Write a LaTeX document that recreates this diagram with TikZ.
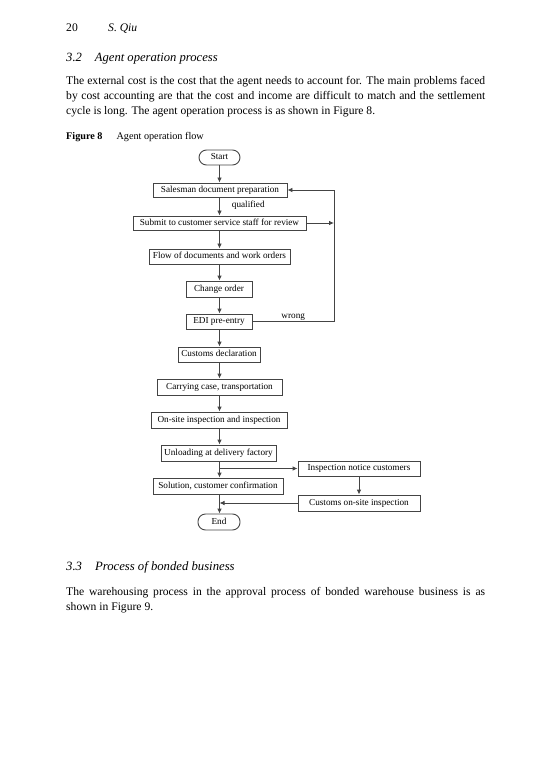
\documentclass[tikz,border=0pt]{standalone}
\usepackage{fontspec}
\setmainfont{Liberation Serif}
\usetikzlibrary{arrows.meta}
\definecolor{ln}{HTML}{444444}
\begin{document}
\begin{tikzpicture}[x=1pt,y=-1pt,
  body/.style={anchor=base west,inner sep=0pt,font=\fontsize{11.6}{13}\selectfont},
  box/.style={draw=ln,line width=0.9pt,inner sep=0pt,text height=6.6pt,text depth=2pt,font=\fontsize{9.2}{11}\selectfont},
  term/.style={box,rounded corners=7.5pt},
  arr/.style={draw=ln,line width=0.9pt,-{Latex[length=5pt,width=4.6pt]}},
  lbl/.style={inner sep=0pt,font=\fontsize{9.2}{11}\selectfont}]
\useasboundingbox (0,0) rectangle (554,783);
% header
\node[body] (pg) at (66,32) {20};
\node[body] (au) at (108,32) {\itshape S. Qiu};
\node[body,font=\fontsize{12.6}{14}\selectfont\itshape] (s32) at (66,62) {3.2\hspace{13pt}Agent operation process};
\node[body] (p1) at (66,85) {\makebox[419pt][s]{The external cost is the cost that the agent needs to account for. The main problems faced}};
\node[body] (p2) at (66,100) {\makebox[419pt][s]{by cost accounting are that the cost and income are difficult to match and the settlement}};
\node[body] (p3) at (66,115) {cycle is long. The agent operation process is as shown in Figure 8.};
\node[body,font=\fontsize{10.2}{12}\selectfont] (fig) at (66,139.5) {\textbf{Figure 8}\hspace{14pt}Agent operation flow};
% flowchart
\node[term,minimum width=41pt,minimum height=15pt] (start) at (219.5,157.5) {Start};
\node[box,minimum width=134pt,minimum height=14pt] (sales) at (220,190) {Salesman document preparation};
\node[box,minimum width=173pt,minimum height=14pt] (submit) at (219.5,223) {Submit to customer service staff for review};
\node[box,minimum width=141pt,minimum height=15pt] (flow) at (219.5,256.5) {Flow of documents and work orders};
\node[box,minimum width=66pt,minimum height=16pt] (change) at (219,289) {Change order};
\node[box,minimum width=66pt,minimum height=15pt] (edi) at (219,321.5) {EDI pre-entry};
\node[box,minimum width=82pt,minimum height=15pt] (decl) at (219,354.5) {Customs declaration};
\node[box,minimum width=125pt,minimum height=16pt] (carry) at (219.5,387) {Carrying case, transportation};
\node[box,minimum width=136pt,minimum height=16pt] (onsite) at (219,420) {On-site inspection and inspection};
\node[box,minimum width=115pt,minimum height=16pt] (unload) at (218.5,453) {Unloading at delivery factory};
\node[box,minimum width=122pt,minimum height=15pt] (notice) at (359,468.5) {Inspection notice customers};
\node[box,minimum width=130pt,minimum height=16pt] (sol) at (218,486) {Solution, customer confirmation};
\node[box,minimum width=122pt,minimum height=16pt] (cons) at (359,503) {Customs on-site inspection};
\node[term,minimum width=42pt,minimum height=16pt] (end) at (219,522) {End};
\coordinate (rt) at (334,223);
\coordinate (br) at (219.5,468.5);
\coordinate (mg) at (219.5,503);
\draw[arr] (start) -- (start|-sales.north);
\draw[arr] (sales.south-|start) -- (start|-submit.north) node[lbl,pos=0.45,right=12pt] (q) {qualified};
\draw[arr] (submit) -- (start|-flow.north);
\draw[arr] (flow) -- (start|-change.north);
\draw[arr] (change.south-|start) -- (start|-edi.north);
\draw[arr] (edi.south-|start) -- (start|-decl.north);
\draw[arr] (decl.south-|start) -- (start|-carry.north);
\draw[arr] (carry.south-|start) -- (start|-onsite.north);
\draw[arr] (onsite.south-|start) -- (start|-unload.north);
\draw[arr] (unload.south-|start) -- (start|-sol.north);
\draw[arr] (sol.south-|start) -- (start|-end.north);
\draw[arr] (submit.east) -- (rt);
\draw[arr] (edi.east) -- (edi.east-|rt) node[lbl,midway,above=1pt] (w) {wrong} -- (rt|-sales.east) -- (sales.east);
\draw[arr] (br) -- (notice.west);
\draw[arr] (notice.south) -- (cons.north);
\draw[arr] (cons.west) -- (mg);
% section 3.3
\node[body,font=\fontsize{12.7}{14}\selectfont\itshape] (s33) at (66,570) {3.3\hspace{13pt}Process of bonded business};
\node[body] (q1) at (66,595) {\makebox[419pt][s]{The warehousing process in the approval process of bonded warehouse business is as}};
\node[body] (q2) at (66,610) {shown in Figure 9.};
\end{tikzpicture}
\end{document}
